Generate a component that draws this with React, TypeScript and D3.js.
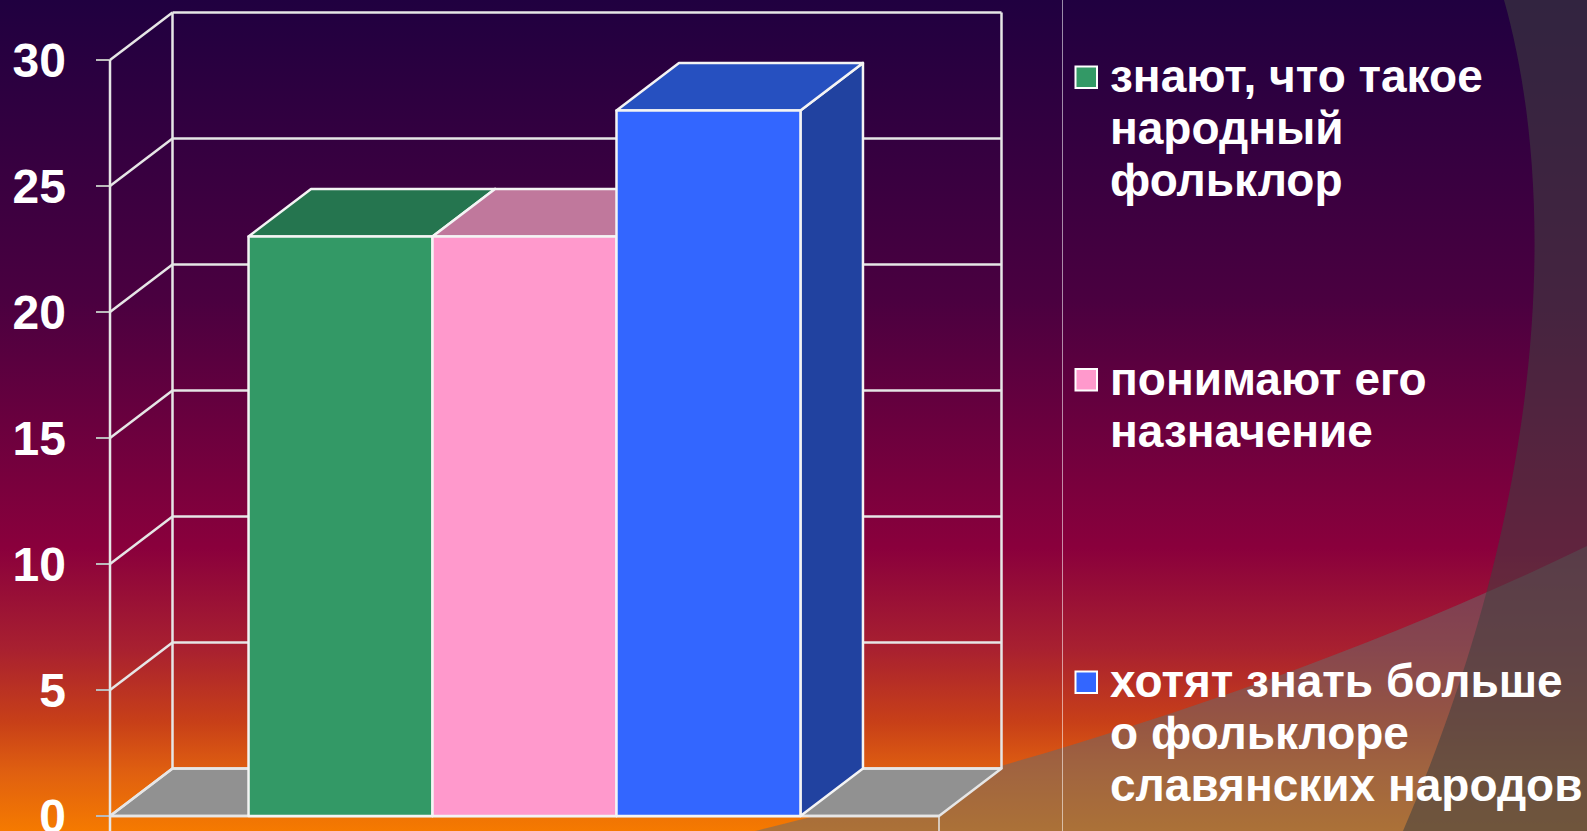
import React from 'react';
import * as d3 from 'd3';

const W = 1587;
const H = 831;

// chart data
const category = 'ученики';
const seriesNames = [
  ['знают, что такое', 'народный', 'фольклор'],
  ['понимают его', 'назначение'],
  ['хотят знать больше', 'о фольклоре', 'славянских народов'],
];
const seriesValues = [23, 23, 28];
const seriesFront = ['#339966', '#ff99cc', '#3366ff'];
const seriesTop = ['#25754f', '#c0789c', '#2650c0'];
const seriesSide = ['#1f5e40', '#b0608a', '#2142a0'];
const yTicks = [0, 5, 10, 15, 20, 25, 30];

const FONT = '"Liberation Sans", Arial, sans-serif';

export default function App() {
  // depth of the 3D box
  const dx = 62.5;
  const dy = -47.5;

  const y = d3.scaleLinear().domain([0, 30]).range([816, 60]);
  const x0 = d3.scaleBand().domain([category]).range([110, 939]).paddingInner(0).paddingOuter(0.251);
  const x1 = d3.scaleBand().domain(seriesValues.map((_, i) => String(i))).range([0, x0.bandwidth()]);

  const y0 = y(0);
  const left = 110;
  const right = 939;
  const grid = '#e6e6e6';

  const legendY = d3.scaleLinear().domain([0, 1]).range([92, 394.5]);

  return (
    <>
      <style>{'body{margin:0;overflow:hidden}'}</style>
      <svg width={W} height={H} style={{ display: 'block' }}>
        <defs>
          <linearGradient id="bg" x1="0" y1="0" x2="0" y2="1">
            <stop offset="0" stopColor="#200040" />
            <stop offset="0.36" stopColor="#4a0040" />
            <stop offset="0.66" stopColor="#8a003c" />
            <stop offset="0.78" stopColor="#a82030" />
            <stop offset="0.87" stopColor="#c84018" />
            <stop offset="0.93" stopColor="#e06010" />
            <stop offset="1" stopColor="#f57a00" />
          </linearGradient>
        </defs>
        <rect width={W} height={H} fill="url(#bg)" />
        {/* background swooshes */}
        <path d="M755,831 C900,795 1250,710 1587,546 L1587,831 Z" fill="rgb(105,105,105)" fillOpacity={0.53} />
        <path d="M1504,0 C1555,180 1555,480 1403,831 L1587,831 L1587,0 Z" fill="rgb(64,64,64)" fillOpacity={0.56} />
        <line x1={1062.5} x2={1062.5} y1={0} y2={H} stroke="#ffffff" strokeOpacity={0.55} strokeWidth={1} />

        {/* floor */}
        <polygon
          points={`${left},${y0} ${right},${y0} ${right + dx},${y0 + dy} ${left + dx},${y0 + dy}`}
          fill="#919191"
          stroke={grid}
          strokeWidth={2.5}
          strokeLinejoin="round"
        />

        {/* walls and grid */}
        <g stroke={grid} strokeWidth={2.5} fill="none">
          {yTicks.map(t => (
            <g key={t}>
              <line x1={left} y1={y(t)} x2={left + dx} y2={y(t) + dy} />
              <line x1={left + dx} y1={y(t) + dy} x2={right + dx} y2={y(t) + dy} />
              <line x1={96} y1={y(t)} x2={left} y2={y(t)} stroke="#bbbbbb" strokeWidth={2} />
            </g>
          ))}
          <line x1={left + dx} y1={y(30) + dy} x2={left + dx} y2={y0 + dy} />
          <line x1={right + dx} y1={y(30) + dy} x2={right + dx} y2={y0 + dy} />
          <line x1={left} y1={y(30)} x2={left} y2={H} />
          <line x1={left} y1={y0} x2={right} y2={y0} />
          <line x1={right} y1={y0} x2={right} y2={H} strokeWidth={1.5} />
        </g>

        {/* 3D bars */}
        <g stroke="#f4f4f4" strokeWidth={2.5} strokeLinejoin="round">
          {seriesValues.map((v, i) => {
            const bx = (x0(category) as number) + (x1(String(i)) as number);
            const bw = x1.bandwidth();
            const top = y(v);
            return (
              <g key={i}>
                <polygon
                  points={`${bx + bw},${top} ${bx + bw + dx},${top + dy} ${bx + bw + dx},${y0 + dy} ${bx + bw},${y0}`}
                  fill={seriesSide[i]}
                />
                <polygon
                  points={`${bx},${top} ${bx + dx},${top + dy} ${bx + bw + dx},${top + dy} ${bx + bw},${top}`}
                  fill={seriesTop[i]}
                />
                <rect x={bx} y={top} width={bw} height={y0 - top} fill={seriesFront[i]} />
              </g>
            );
          })}
        </g>

        {/* y axis labels */}
        <g fill="#ffffff" fontFamily={FONT} fontWeight="bold" fontSize={48} textAnchor="end">
          {yTicks.map(t => (
            <text key={t} x={66} y={y(t)} dy="0.36em">
              {t}
            </text>
          ))}
        </g>

        {/* legend */}
        <g fontFamily={FONT} fontWeight="bold" fontSize={46} fill="#ffffff">
          {seriesNames.map((lines, i) => {
            const base = legendY(i);
            return (
              <g key={i}>
                <rect x={1075.5} y={base - 25.5} width={21.5} height={21.5} fill={seriesFront[i]} stroke="#ffffff" strokeWidth={2} />
                {lines.map((ln, j) => (
                  <text key={j} x={1110} y={base + j * 52}>
                    {ln}
                  </text>
                ))}
              </g>
            );
          })}
        </g>
      </svg>
    </>
  );
}
